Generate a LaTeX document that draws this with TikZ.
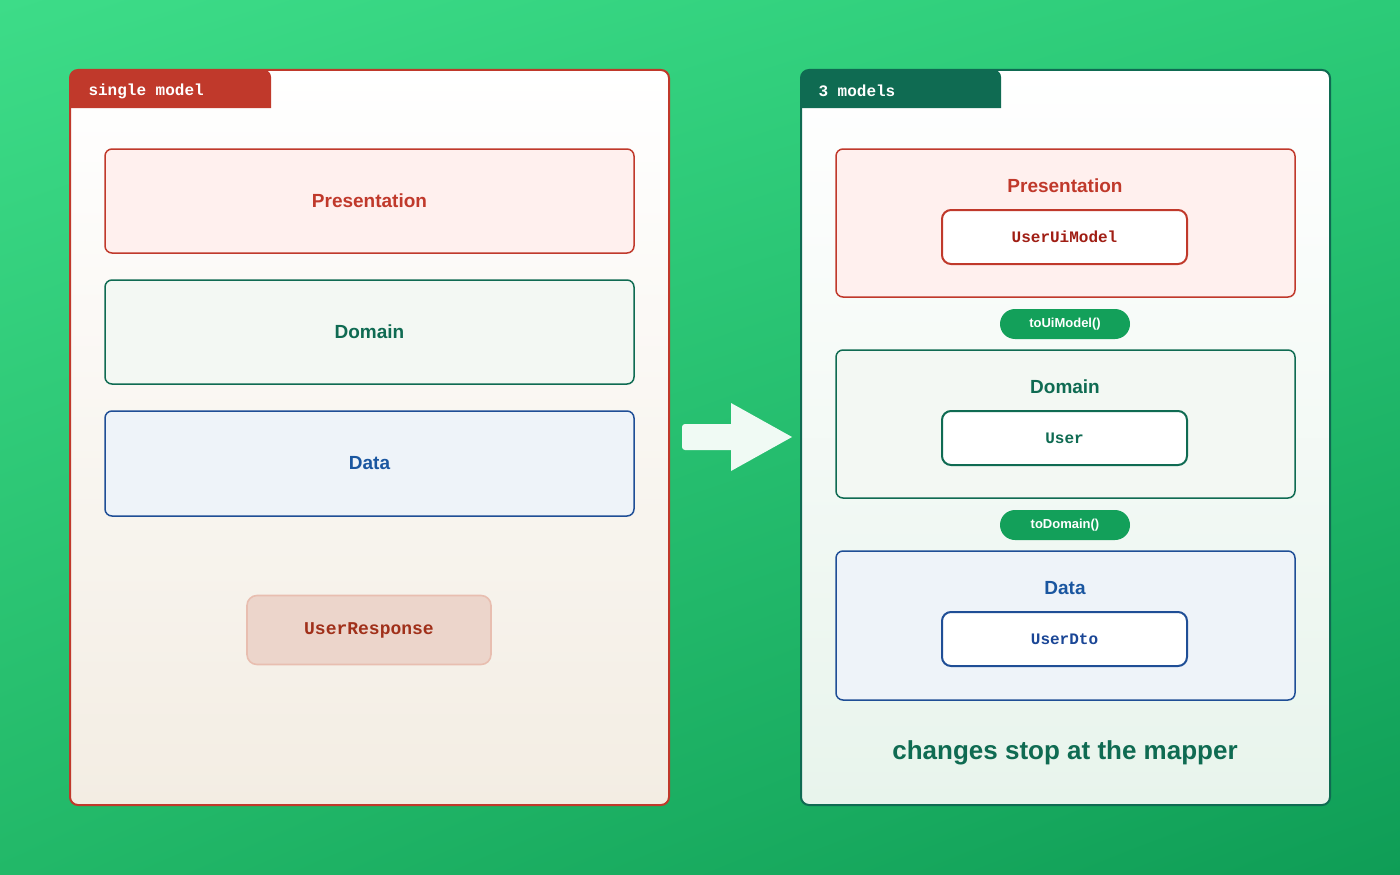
\documentclass[tikz,border=0pt]{standalone}
\usepackage{fontspec}
\setmainfont{Liberation Sans}
\setmonofont{Liberation Mono}
\usetikzlibrary{shadings}
\definecolor{redc}{HTML}{C0392B}
\definecolor{grn}{HTML}{0F6B52}
\definecolor{blu}{HTML}{1F4E96}
\definecolor{blut}{HTML}{1A56A0}
\definecolor{pillg}{HTML}{13A05A}
\definecolor{bgA}{HTML}{3DDC88}
\definecolor{bgB}{HTML}{2CCB78}
\definecolor{bgC}{HTML}{22B868}
\definecolor{bgD}{HTML}{0F9D56}
\definecolor{beige}{HTML}{F3EDE3}
\definecolor{mint}{HTML}{E8F4EC}
\definecolor{pinkf}{HTML}{FFF0EE}
\definecolor{grnf}{HTML}{F3F8F3}
\definecolor{bluf}{HTML}{EEF3F9}
\definecolor{urd}{HTML}{E8BEB0}
\definecolor{urf}{HTML}{ECD5CB}
\definecolor{urt}{HTML}{A0301A}
\definecolor{arr}{HTML}{F0FAF4}
\definecolor{uit}{HTML}{A01E14}
\definecolor{dtot}{HTML}{1A4696}
\begin{document}
\begin{tikzpicture}[x=1pt,y=-1pt,
 lay/.style={draw=#1,line width=1.5pt,rounded corners=7pt},
 ttl/.style={font=\fontsize{19}{22}\selectfont\bfseries},
 mono/.style={font=\fontsize{16}{18}\ttfamily\bfseries},
 inner/.style={draw=#1,fill=white,line width=2pt,rounded corners=9pt},
 pill/.style={fill=pillg,rounded corners=15pt,text=white,font=\fontsize{13}{15}\selectfont\bfseries},
 tab/.style={text=white,font=\fontsize{16}{18}\ttfamily\bfseries,anchor=west}]
\useasboundingbox (0,0) rectangle (1400,875);
\shade[upper left=bgA,upper right=bgB,lower left=bgC,lower right=bgD] (0,0) rectangle (1400,875);
% left panel
\shade[top color=white,bottom color=beige,rounded corners=8pt] (70,70) rectangle (669,805);
\draw[draw=redc,line width=2pt,rounded corners=8pt] (70,70) rectangle (669,805);
\fill[redc,rounded corners=7pt] (70,108) -- (70,70) -- (271,70) [sharp corners]-- (271,108) -- cycle;
\node[tab] (t1) at (85,91) {single model};
\node[lay=redc,fill=pinkf,minimum width=529pt,minimum height=104pt,ttl,text=redc] (p1) at (369.5,201) {\raisebox{-2pt}{Presentation}};
\node[lay=grn,fill=grnf,minimum width=529pt,minimum height=104pt,ttl,text=grn] (d1) at (369.5,332) {\raisebox{-2pt}{Domain}};
\node[lay=blu,fill=bluf,minimum width=529pt,minimum height=105pt,ttl,text=blut] (a1) at (369.5,463.5) {\raisebox{-2pt}{Data}};
\node[draw=urd,line width=1.6pt,fill=urf,rounded corners=10pt,minimum width=244pt,minimum height=69pt,font=\fontsize{18}{20}\ttfamily\bfseries,text=urt] (ur) at (369,630) {\raisebox{-2pt}{UserResponse}};
% arrow
\fill[arr,rounded corners=3pt] (682,424) rectangle (735,450);
\fill[arr] (731,403) -- (792,437) -- (731,471) -- cycle;
% right panel
\shade[top color=white,bottom color=mint,rounded corners=8pt] (801,70) rectangle (1330,805);
\draw[draw=grn,line width=2pt,rounded corners=8pt] (801,70) rectangle (1330,805);
\fill[grn,rounded corners=7pt] (801,108) -- (801,70) -- (1001,70) [sharp corners]-- (1001,108) -- cycle;
\node[tab] (t2) at (815,91) {3 models};
\draw[lay=redc,fill=pinkf] (836,149) rectangle (1295,297);
\node[ttl,text=redc] (p2) at (1065,186) {Presentation};
\node[inner=redc,minimum width=245pt,minimum height=54pt,mono,text=uit] (m1) at (1064.5,237) {\raisebox{-2pt}{UserUiModel}};
\node[pill,minimum width=130pt,minimum height=30pt] (c1) at (1065,324) {\raisebox{-1.5pt}{toUiModel()}};
\draw[lay=grn,fill=grnf] (836,350) rectangle (1295,498);
\node[ttl,text=grn] (d2) at (1065,387) {Domain};
\node[inner=grn,minimum width=245pt,minimum height=54pt,mono,text=grn] (m2) at (1064.5,438) {\raisebox{-2pt}{User}};
\node[pill,minimum width=130pt,minimum height=30pt] (c2) at (1065,525) {\raisebox{-1.5pt}{toDomain()}};
\draw[lay=blu,fill=bluf] (836,551) rectangle (1295,700);
\node[ttl,text=blut] (a2) at (1065,588) {Data};
\node[inner=blu,minimum width=245pt,minimum height=54pt,mono,text=dtot] (m3) at (1064.5,639) {\raisebox{-2pt}{UserDto}};
\node[font=\fontsize{26}{30}\selectfont\bfseries,text=grn] (cap) at (1065,753) {changes stop at the mapper};
\end{tikzpicture}
\end{document}
